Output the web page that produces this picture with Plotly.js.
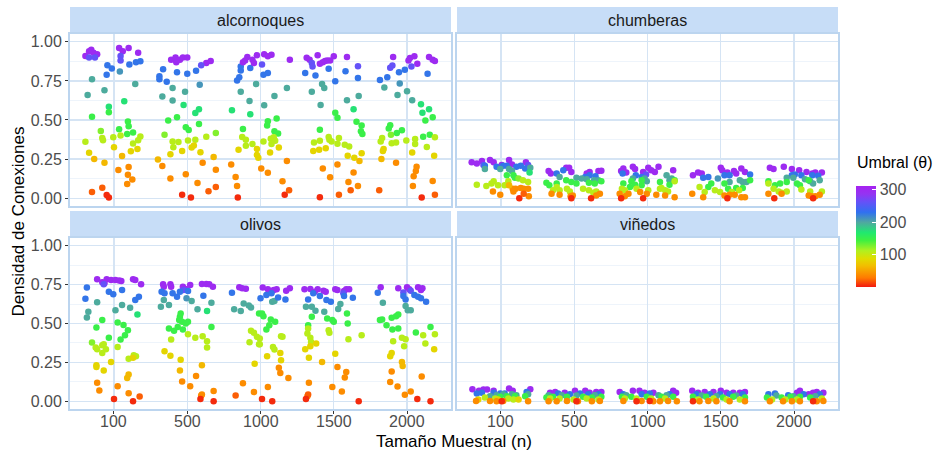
<!DOCTYPE html>
<html>
<head>
<meta charset="utf-8">
<script src="https://cdn.plot.ly/plotly-3.0.1.min.js"></script>
<style>
  html, body { margin: 0; padding: 0; background: #ffffff; }
  #grafico { width: 940px; height: 455px; }
</style>
</head>
<body>
<div id="grafico"></div>
<script>
// Tamaños muestrales (eje discreto) y etiquetas de cada faceta
const tamanos = [100, 500, 1000, 1500, 2000];
const facetas = ['alcornoques', 'chumberas', 'olivos', 'viñedos'];
const marcasY = [0, 0.25, 0.5, 0.75, 1];
const etiquetasY = ['0.00', '0.25', '0.50', '0.75', '1.00'];
const marcasUmbral = [100, 200, 300];

// Filas: [n, desplazamiento del jitter, densidad de conexiones, umbral θ]
const alcornoques = [
  [100,-0.39,0.91,300],[100,-0.34,0.94,300],[100,-0.31,0.95,300],[100,-0.28,0.93,300],[100,-0.23,0.92,300],[100,-0.34,0.90,262],[100,-0.26,0.90,262],[100,0.07,0.96,300],[100,0.12,0.94,300],[100,0.20,0.96,300],[100,0.33,0.93,300],[100,0.09,0.91,262],[100,0.09,0.88,262],[100,-0.09,0.85,228],[100,-0.03,0.83,228],[100,-0.10,0.79,228],[100,0.21,0.855,228],[100,0.30,0.87,228],[100,0.36,0.875,228],[100,0.08,0.81,210],[100,-0.30,0.76,198],[100,-0.13,0.69,198],[100,-0.36,0.66,198],[100,0.29,0.73,198],[100,0.14,0.62,172],[100,-0.07,0.585,172],[100,-0.07,0.55,148],[100,-0.30,0.52,148],[100,0.19,0.49,148],[100,0.20,0.46,148],[100,-0.18,0.43,125],[100,-0.16,0.385,108],[100,-0.15,0.37,108],[100,-0.39,0.36,108],[100,-0.01,0.39,108],[100,0.07,0.44,148],[100,0.09,0.40,108],[100,0.18,0.41,148],[100,0.26,0.42,148],[100,0.36,0.395,108],[100,0.33,0.37,108],[100,0.32,0.315,82],[100,0.23,0.30,82],[100,0.26,0.35,108],[100,0.00,0.325,82],[100,-0.34,0.29,82],[100,-0.27,0.25,62],[100,-0.13,0.227,62],[100,0.11,0.27,62],[100,0.06,0.18,38],[100,0.20,0.20,38],[100,0.19,0.15,38],[100,0.25,0.12,38],[100,0.18,0.09,38],[100,-0.16,0.067,20],[100,-0.30,0.04,20],[100,-0.10,0.02,5],[100,-0.07,0.004,5],
  [500,-0.22,0.885,300],[500,-0.16,0.90,300],[500,-0.10,0.885,300],[500,-0.06,0.90,300],[500,0.00,0.90,300],[500,-0.15,0.87,300],[500,0.26,0.865,300],[500,0.32,0.877,300],[500,0.19,0.85,262],[500,-0.33,0.825,228],[500,-0.38,0.78,228],[500,-0.38,0.76,228],[500,-0.14,0.805,228],[500,0.00,0.795,228],[500,0.12,0.815,228],[500,-0.28,0.745,228],[500,0.17,0.725,210],[500,-0.20,0.705,198],[500,-0.03,0.68,198],[500,-0.34,0.65,198],[500,-0.20,0.625,198],[500,-0.05,0.596,172],[500,0.11,0.544,172],[500,0.16,0.568,172],[500,-0.14,0.518,148],[500,-0.26,0.497,148],[500,0.16,0.475,148],[500,-0.02,0.454,148],[500,0.02,0.436,148],[500,-0.31,0.406,125],[500,-0.20,0.363,108],[500,-0.12,0.359,108],[500,0.01,0.369,108],[500,0.11,0.374,108],[500,0.26,0.393,108],[500,0.39,0.417,125],[500,-0.19,0.326,108],[500,-0.07,0.302,82],[500,0.06,0.324,82],[500,0.09,0.337,82],[500,0.18,0.294,82],[500,-0.23,0.281,82],[500,-0.40,0.248,62],[500,-0.34,0.205,38],[500,0.36,0.263,62],[500,0.21,0.227,38],[500,-0.02,0.153,38],[500,-0.23,0.125,38],[500,0.39,0.181,38],[500,0.14,0.097,38],[500,0.39,0.071,20],[500,0.29,0.045,20],[500,-0.07,0.022,5],[500,0.05,0.004,5],
  [1000,-0.32,0.752,228],[1000,-0.29,0.773,228],[1000,-0.27,0.816,228],[1000,-0.27,0.842,228],[1000,-0.24,0.870,300],[1000,-0.18,0.903,300],[1000,-0.21,0.881,300],[1000,-0.14,0.832,228],[1000,-0.11,0.886,300],[1000,-0.09,0.864,300],[1000,-0.05,0.914,300],[1000,-0.27,0.680,198],[1000,-0.15,0.622,198],[1000,-0.14,0.536,172],[1000,-0.06,0.730,198],[1000,-0.39,0.562,172],[1000,-0.24,0.443,148],[1000,-0.25,0.391,108],[1000,-0.20,0.374,108],[1000,-0.11,0.346,108],[1000,-0.20,0.335,108],[1000,-0.05,0.315,82],[1000,-0.30,0.309,82],[1000,-0.05,0.276,82],[1000,-0.03,0.259,82],[1000,-0.40,0.216,38],[1000,-0.34,0.136,38],[1000,-0.32,0.078,38],[1000,-0.31,0.004,5],[1000,0.05,0.920,300],[1000,0.10,0.907,300],[1000,0.15,0.918,300],[1000,0.02,0.855,262],[1000,0.04,0.790,228],[1000,0.10,0.801,228],[1000,0.19,0.654,198],[1000,0.05,0.594,198],[1000,0.10,0.492,148],[1000,0.09,0.464,148],[1000,0.22,0.510,148],[1000,0.19,0.428,148],[1000,0.24,0.413,148],[1000,0.18,0.389,108],[1000,0.14,0.380,108],[1000,0.20,0.367,108],[1000,0.04,0.363,108],[1000,0.15,0.346,108],[1000,0.25,0.324,82],[1000,0.13,0.292,82],[1000,0.01,0.190,38],[1000,0.36,0.238,38],[1000,0.10,0.162,38],[1000,0.30,0.108,38],[1000,0.33,0.022,5],[1000,0.39,0.050,20],[1000,0.40,0.886,300],[1000,0.36,0.704,198],
  [1500,-0.37,0.898,300],[1500,-0.33,0.886,300],[1500,-0.22,0.914,300],[1500,-0.30,0.864,262],[1500,-0.29,0.842,262],[1500,-0.19,0.860,300],[1500,-0.15,0.870,300],[1500,-0.12,0.877,300],[1500,-0.09,0.881,300],[1500,-0.05,0.881,300],[1500,0.00,0.907,300],[1500,0.18,0.903,300],[1500,-0.07,0.827,228],[1500,-0.39,0.801,228],[1500,-0.25,0.784,228],[1500,0.02,0.747,228],[1500,0.16,0.812,228],[1500,0.33,0.844,262],[1500,0.33,0.769,228],[1500,-0.30,0.680,198],[1500,-0.16,0.730,198],[1500,-0.13,0.704,198],[1500,-0.18,0.596,198],[1500,0.18,0.626,198],[1500,0.27,0.568,172],[1500,0.34,0.654,198],[1500,0.02,0.546,148],[1500,0.05,0.514,148],[1500,0.31,0.488,148],[1500,0.38,0.464,148],[1500,0.37,0.428,148],[1500,0.39,0.410,148],[1500,-0.19,0.438,148],[1500,-0.27,0.356,108],[1500,-0.19,0.367,108],[1500,-0.07,0.391,108],[1500,-0.06,0.374,108],[1500,-0.03,0.363,108],[1500,0.07,0.384,108],[1500,0.05,0.348,108],[1500,0.15,0.341,108],[1500,0.21,0.330,108],[1500,-0.28,0.302,82],[1500,-0.20,0.309,82],[1500,-0.11,0.320,82],[1500,0.38,0.287,82],[1500,0.19,0.272,82],[1500,0.28,0.259,82],[1500,0.35,0.238,62],[1500,-0.15,0.190,38],[1500,-0.05,0.134,38],[1500,0.05,0.216,38],[1500,0.27,0.164,38],[1500,0.20,0.104,38],[1500,0.33,0.078,38],[1500,0.23,0.050,20],[1500,-0.19,0.006,5],[1500,0.07,0.022,20],
  [2000,-0.19,0.903,300],[2000,0.04,0.896,300],[2000,0.10,0.907,300],[2000,0.02,0.881,300],[2000,0.14,0.860,300],[2000,0.30,0.903,300],[2000,0.35,0.886,300],[2000,0.38,0.877,300],[2000,0.06,0.842,262],[2000,-0.20,0.849,262],[2000,-0.23,0.834,262],[2000,-0.37,0.756,228],[2000,-0.27,0.773,228],[2000,-0.11,0.806,228],[2000,-0.03,0.821,228],[2000,0.28,0.795,228],[2000,-0.10,0.734,210],[2000,-0.31,0.708,198],[2000,-0.13,0.659,198],[2000,0.00,0.683,198],[2000,0.07,0.626,198],[2000,0.19,0.600,172],[2000,0.30,0.568,172],[2000,0.21,0.546,172],[2000,0.35,0.518,148],[2000,0.25,0.497,148],[2000,-0.23,0.467,148],[2000,-0.25,0.445,148],[2000,-0.22,0.406,125],[2000,-0.07,0.434,148],[2000,-0.14,0.417,148],[2000,-0.01,0.369,108],[2000,0.11,0.378,108],[2000,0.22,0.393,148],[2000,0.31,0.406,148],[2000,0.38,0.389,108],[2000,-0.34,0.384,108],[2000,-0.36,0.363,108],[2000,-0.21,0.352,108],[2000,-0.15,0.356,108],[2000,-0.32,0.315,82],[2000,-0.33,0.302,82],[2000,0.11,0.346,108],[2000,0.27,0.328,108],[2000,0.07,0.292,82],[2000,0.37,0.272,82],[2000,-0.35,0.251,62],[2000,-0.15,0.227,38],[2000,0.13,0.201,38],[2000,0.12,0.173,38],[2000,0.09,0.140,38],[2000,0.35,0.110,38],[2000,0.08,0.078,38],[2000,-0.38,0.050,20],[2000,0.20,0.004,5],[2000,0.38,0.022,20]
];

const chumberas = [
  [100,-0.40,0.229,300],[100,-0.33,0.222,300],[100,-0.26,0.238,300],[100,-0.15,0.244,300],[100,-0.10,0.229,300],[100,-0.24,0.212,262],[100,0.01,0.212,300],[100,0.11,0.244,300],[100,0.15,0.216,300],[100,0.34,0.229,300],[100,0.37,0.212,262],[100,-0.22,0.207,228],[100,-0.06,0.201,228],[100,0.03,0.207,228],[100,0.08,0.207,228],[100,0.21,0.201,228],[100,0.27,0.207,228],[100,0.33,0.190,228],[100,-0.22,0.186,198],[100,-0.01,0.186,198],[100,0.11,0.186,198],[100,0.15,0.173,198],[100,0.40,0.194,198],[100,0.39,0.164,172],[100,0.17,0.147,148],[100,0.19,0.130,148],[100,0.08,0.147,148],[100,-0.33,0.086,108],[100,-0.20,0.078,108],[100,-0.13,0.093,108],[100,-0.10,0.108,108],[100,0.05,0.082,108],[100,0.10,0.108,108],[100,0.24,0.125,125],[100,0.30,0.114,108],[100,0.37,0.104,108],[100,-0.04,0.082,108],[100,-0.11,0.043,38],[100,-0.01,0.022,38],[100,0.16,0.060,38],[100,0.20,0.060,38],[100,0.27,0.065,38],[100,0.31,0.060,38],[100,0.17,0.043,38],[100,0.38,0.013,38],[100,0.37,0.060,38],[100,0.11,0.082,62],[100,0.25,0.000,5],[100,0.31,0.028,20],
  [500,-0.35,0.173,300],[500,-0.32,0.158,300],[500,-0.11,0.194,300],[500,-0.07,0.194,300],[500,-0.04,0.168,300],[500,0.17,0.158,300],[500,0.21,0.168,300],[500,0.33,0.173,300],[500,0.37,0.175,300],[500,-0.24,0.158,228],[500,-0.15,0.179,228],[500,0.21,0.147,228],[500,0.29,0.140,228],[500,0.15,0.136,228],[500,-0.20,0.136,198],[500,0.03,0.130,198],[500,0.10,0.125,198],[500,0.17,0.121,198],[500,0.27,0.114,198],[500,0.33,0.114,198],[500,-0.38,0.099,148],[500,-0.34,0.082,148],[500,-0.24,0.093,148],[500,-0.04,0.104,148],[500,0.03,0.093,148],[500,0.20,0.099,148],[500,0.28,0.093,148],[500,0.37,0.108,148],[500,-0.11,0.114,148],[500,-0.29,0.050,108],[500,-0.24,0.071,108],[500,-0.20,0.050,108],[500,-0.10,0.060,108],[500,-0.06,0.043,108],[500,0.12,0.060,108],[500,0.20,0.050,108],[500,0.26,0.035,108],[500,0.30,0.043,108],[500,-0.31,0.028,38],[500,-0.20,0.022,38],[500,-0.05,0.013,38],[500,-0.02,0.017,38],[500,0.30,0.017,38],[500,0.35,0.028,38],[500,0.23,0.000,5],[500,-0.04,0.000,5],
  [1000,-0.36,0.173,300],[1000,-0.33,0.190,300],[1000,-0.20,0.201,300],[1000,-0.17,0.186,300],[1000,-0.06,0.168,300],[1000,-0.02,0.151,262],[1000,-0.29,0.164,300],[1000,-0.34,0.158,228],[1000,-0.16,0.147,228],[1000,-0.08,0.136,228],[1000,-0.20,0.125,198],[1000,-0.04,0.125,198],[1000,-0.01,0.108,198],[1000,-0.33,0.093,148],[1000,-0.22,0.108,148],[1000,-0.24,0.071,148],[1000,-0.17,0.086,148],[1000,-0.08,0.082,148],[1000,-0.35,0.060,108],[1000,-0.31,0.050,108],[1000,-0.15,0.060,108],[1000,0.01,0.050,108],[1000,-0.38,0.028,38],[1000,-0.31,0.013,38],[1000,-0.26,0.028,38],[1000,-0.10,0.039,38],[1000,-0.01,0.028,38],[1000,-0.36,0.000,5],[1000,-0.06,0.000,5],[1000,0.01,0.194,300],[1000,0.05,0.179,300],[1000,0.15,0.201,300],[1000,0.10,0.168,300],[1000,0.35,0.179,300],[1000,0.26,0.147,198],[1000,0.33,0.125,198],[1000,0.30,0.114,198],[1000,0.37,0.114,148],[1000,0.17,0.104,148],[1000,0.30,0.086,148],[1000,0.17,0.060,108],[1000,0.19,0.065,108],[1000,0.24,0.050,108],[1000,0.28,0.043,108],[1000,0.37,0.108,108],[1000,0.12,0.022,38],[1000,0.24,0.017,38],[1000,0.37,0.006,38],[1000,-0.08,0.114,148],
  [1500,-0.38,0.147,300],[1500,-0.31,0.164,300],[1500,-0.26,0.158,300],[1500,0.00,0.194,300],[1500,0.02,0.179,300],[1500,0.09,0.164,300],[1500,0.18,0.173,300],[1500,0.21,0.158,300],[1500,0.28,0.190,300],[1500,0.33,0.168,300],[1500,-0.24,0.130,228],[1500,-0.17,0.136,228],[1500,0.05,0.147,228],[1500,0.12,0.147,228],[1500,-0.04,0.125,210],[1500,0.40,0.151,228],[1500,0.26,0.114,198],[1500,0.30,0.104,198],[1500,0.35,0.104,198],[1500,0.12,0.104,198],[1500,-0.13,0.093,148],[1500,-0.17,0.071,148],[1500,0.05,0.093,148],[1500,0.10,0.060,148],[1500,0.21,0.065,148],[1500,0.30,0.065,148],[1500,0.40,0.114,148],[1500,-0.29,0.071,108],[1500,-0.22,0.039,108],[1500,-0.08,0.050,108],[1500,-0.01,0.039,108],[1500,0.15,0.039,108],[1500,0.25,0.050,108],[1500,-0.39,0.028,38],[1500,-0.24,0.006,38],[1500,0.05,0.017,38],[1500,0.12,0.022,38],[1500,0.19,0.022,38],[1500,0.28,0.006,38],[1500,0.33,0.006,38],[1500,0.09,0.000,5],
  [2000,-0.33,0.194,300],[2000,-0.28,0.186,300],[2000,-0.14,0.201,300],[2000,-0.03,0.186,300],[2000,0.07,0.179,300],[2000,0.17,0.168,300],[2000,0.25,0.158,300],[2000,0.29,0.164,300],[2000,0.38,0.164,300],[2000,-0.03,0.147,228],[2000,0.01,0.151,228],[2000,0.25,0.147,228],[2000,0.33,0.143,228],[2000,0.10,0.147,228],[2000,-0.10,0.130,198],[2000,-0.01,0.130,198],[2000,0.15,0.121,198],[2000,0.22,0.108,198],[2000,0.26,0.093,198],[2000,0.35,0.114,198],[2000,-0.35,0.108,148],[2000,-0.26,0.082,148],[2000,-0.19,0.093,148],[2000,-0.10,0.104,148],[2000,0.04,0.093,148],[2000,0.08,0.082,148],[2000,0.20,0.114,148],[2000,-0.35,0.093,108],[2000,-0.28,0.060,108],[2000,-0.21,0.043,108],[2000,-0.17,0.035,108],[2000,-0.10,0.043,108],[2000,0.10,0.056,108],[2000,0.22,0.043,108],[2000,0.38,0.043,108],[2000,-0.35,0.028,38],[2000,-0.17,0.028,38],[2000,0.20,0.017,38],[2000,0.24,0.013,38],[2000,0.29,0.013,38],[2000,0.35,0.022,38],[2000,-0.27,0.000,5],[2000,0.26,0.000,5]
];

const olivos = [
  [100,-0.23,0.784,300],[100,-0.16,0.765,300],[100,-0.13,0.759,300],[100,-0.10,0.784,300],[100,-0.04,0.780,300],[100,0.02,0.780,300],[100,0.07,0.776,300],[100,0.10,0.774,300],[100,0.26,0.784,300],[100,0.29,0.780,300],[100,0.37,0.752,300],[100,-0.14,0.752,262],[100,-0.37,0.731,228],[100,-0.39,0.659,228],[100,-0.07,0.705,228],[100,-0.01,0.688,228],[100,0.11,0.716,228],[100,0.29,0.651,228],[100,0.34,0.672,228],[100,-0.23,0.636,198],[100,-0.35,0.575,198],[100,-0.37,0.539,198],[100,0.02,0.586,198],[100,0.11,0.619,198],[100,0.22,0.601,198],[100,0.32,0.558,172],[100,-0.16,0.522,148],[100,-0.24,0.474,148],[100,0.05,0.506,148],[100,0.13,0.491,148],[100,0.19,0.457,148],[100,0.15,0.425,148],[100,0.09,0.397,148],[100,-0.07,0.409,148],[100,-0.30,0.377,125],[100,-0.25,0.345,108],[100,-0.23,0.334,108],[100,-0.16,0.360,108],[100,-0.14,0.366,108],[100,-0.11,0.334,108],[100,-0.16,0.310,108],[100,0.05,0.349,108],[100,-0.24,0.231,82],[100,-0.24,0.220,82],[100,-0.14,0.198,82],[100,-0.04,0.252,82],[100,0.20,0.274,108],[100,0.27,0.295,108],[100,0.30,0.289,108],[100,0.26,0.280,82],[100,0.18,0.149,62],[100,0.20,0.172,62],[100,-0.23,0.119,38],[100,-0.20,0.069,38],[100,0.05,0.097,38],[100,0.20,0.052,38],[100,0.35,0.030,20],[100,0.00,0.015,5],[100,0.26,0.000,5],
  [500,-0.33,0.752,300],[500,-0.32,0.737,300],[500,-0.23,0.752,300],[500,-0.22,0.737,300],[500,-0.06,0.737,300],[500,-0.02,0.722,300],[500,0.04,0.748,300],[500,0.20,0.754,300],[500,0.26,0.754,300],[500,0.30,0.752,300],[500,0.35,0.737,300],[500,-0.05,0.716,262],[500,-0.35,0.705,228],[500,-0.31,0.694,228],[500,-0.20,0.694,228],[500,-0.14,0.672,228],[500,-0.10,0.705,228],[500,0.01,0.709,228],[500,-0.01,0.662,210],[500,0.22,0.679,228],[500,-0.36,0.608,198],[500,-0.32,0.651,198],[500,-0.25,0.619,198],[500,0.06,0.644,198],[500,0.14,0.591,198],[500,0.33,0.634,198],[500,0.27,0.580,172],[500,-0.09,0.565,148],[500,-0.10,0.543,148],[500,-0.07,0.511,148],[500,-0.11,0.522,148],[500,-0.13,0.478,148],[500,-0.02,0.500,148],[500,0.01,0.511,148],[500,-0.25,0.468,148],[500,-0.18,0.453,148],[500,-0.06,0.461,148],[500,0.33,0.478,148],[500,-0.22,0.397,108],[500,0.01,0.431,108],[500,0.11,0.409,108],[500,0.21,0.418,108],[500,0.27,0.386,108],[500,0.27,0.345,108],[500,-0.31,0.321,82],[500,-0.23,0.293,82],[500,-0.09,0.267,82],[500,-0.10,0.198,62],[500,0.20,0.231,62],[500,-0.07,0.127,38],[500,0.04,0.097,38],[500,0.12,0.162,38],[500,0.19,0.037,38],[500,0.20,0.043,38],[500,0.36,0.065,38],[500,0.18,0.015,5],[500,0.36,0.000,5],
  [1000,-0.29,0.733,300],[1000,-0.25,0.726,300],[1000,-0.20,0.724,300],[1000,-0.39,0.698,228],[1000,-0.36,0.591,198],[1000,-0.27,0.580,198],[1000,-0.23,0.629,198],[1000,-0.16,0.616,198],[1000,-0.13,0.603,198],[1000,-0.02,0.565,148],[1000,-0.13,0.453,108],[1000,-0.09,0.440,108],[1000,-0.05,0.414,108],[1000,-0.15,0.379,108],[1000,-0.02,0.366,108],[1000,-0.08,0.241,82],[1000,-0.24,0.116,38],[1000,-0.09,0.060,38],[1000,-0.34,0.037,20],[1000,0.03,0.731,300],[1000,0.10,0.720,300],[1000,0.12,0.705,300],[1000,0.18,0.716,300],[1000,0.22,0.720,300],[1000,0.35,0.711,300],[1000,0.40,0.726,300],[1000,0.00,0.662,228],[1000,0.08,0.683,228],[1000,0.15,0.694,228],[1000,0.16,0.640,198],[1000,0.19,0.644,198],[1000,0.24,0.668,228],[1000,0.34,0.655,228],[1000,0.02,0.565,148],[1000,0.04,0.547,148],[1000,0.14,0.526,148],[1000,0.12,0.489,148],[1000,0.20,0.511,148],[1000,0.08,0.461,148],[1000,0.28,0.418,108],[1000,0.30,0.414,108],[1000,-0.01,0.403,108],[1000,-0.01,0.366,108],[1000,0.17,0.349,108],[1000,0.19,0.332,108],[1000,0.09,0.289,82],[1000,0.27,0.310,82],[1000,0.28,0.263,82],[1000,0.25,0.216,38],[1000,0.27,0.181,38],[1000,0.38,0.149,38],[1000,0.10,0.091,38],[1000,0.02,0.015,5],[1000,0.16,0.000,5],
  [1500,-0.40,0.720,300],[1500,-0.32,0.722,300],[1500,-0.26,0.705,300],[1500,-0.22,0.720,300],[1500,-0.14,0.711,300],[1500,-0.11,0.705,300],[1500,0.02,0.720,300],[1500,0.05,0.716,300],[1500,0.14,0.709,300],[1500,0.17,0.720,300],[1500,0.21,0.720,300],[1500,0.13,0.694,262],[1500,-0.19,0.677,228],[1500,-0.28,0.694,228],[1500,0.14,0.677,228],[1500,0.26,0.666,228],[1500,-0.35,0.655,228],[1500,-0.10,0.651,228],[1500,-0.04,0.640,228],[1500,-0.38,0.608,198],[1500,-0.30,0.608,198],[1500,-0.25,0.582,198],[1500,-0.13,0.575,198],[1500,0.06,0.593,198],[1500,0.09,0.625,198],[1500,-0.30,0.543,148],[1500,-0.09,0.532,148],[1500,-0.02,0.522,148],[1500,0.00,0.511,148],[1500,0.18,0.565,148],[1500,0.19,0.500,148],[1500,-0.35,0.489,148],[1500,-0.35,0.468,108],[1500,-0.07,0.457,108],[1500,-0.06,0.440,108],[1500,-0.36,0.435,108],[1500,0.20,0.399,108],[1500,0.38,0.425,108],[1500,-0.32,0.409,108],[1500,-0.31,0.381,108],[1500,-0.32,0.353,82],[1500,-0.39,0.334,82],[1500,-0.24,0.371,82],[1500,-0.34,0.280,82],[1500,0.02,0.306,82],[1500,-0.16,0.252,62],[1500,0.05,0.220,38],[1500,0.17,0.188,38],[1500,0.15,0.153,38],[1500,-0.34,0.119,38],[1500,-0.02,0.091,38],[1500,0.11,0.063,38],[1500,-0.36,0.032,38],[1500,-0.35,0.043,20],[1500,0.34,0.000,5],[1500,-0.38,0.015,5],
  [2000,-0.36,0.733,300],[2000,-0.12,0.726,300],[2000,0.00,0.733,300],[2000,0.03,0.720,300],[2000,0.15,0.733,300],[2000,0.19,0.716,300],[2000,0.21,0.726,300],[2000,-0.05,0.700,262],[2000,0.05,0.711,262],[2000,-0.40,0.698,228],[2000,-0.05,0.677,228],[2000,-0.02,0.655,228],[2000,0.10,0.683,228],[2000,0.15,0.672,228],[2000,0.19,0.662,228],[2000,0.26,0.640,228],[2000,-0.33,0.634,198],[2000,-0.02,0.612,198],[2000,0.01,0.586,198],[2000,0.05,0.586,198],[2000,-0.37,0.522,148],[2000,-0.34,0.526,148],[2000,-0.21,0.537,148],[2000,-0.15,0.547,148],[2000,-0.12,0.558,148],[2000,-0.28,0.489,148],[2000,-0.20,0.461,148],[2000,-0.12,0.468,148],[2000,0.12,0.442,148],[2000,0.32,0.478,148],[2000,-0.19,0.386,108],[2000,-0.07,0.409,108],[2000,-0.02,0.399,108],[2000,-0.04,0.353,108],[2000,0.25,0.371,108],[2000,0.37,0.334,82],[2000,0.38,0.431,108],[2000,0.22,0.425,108],[2000,-0.23,0.289,82],[2000,-0.21,0.310,82],[2000,-0.07,0.252,62],[2000,-0.06,0.226,62],[2000,-0.21,0.192,38],[2000,0.20,0.159,38],[2000,-0.23,0.123,38],[2000,-0.13,0.095,38],[2000,-0.03,0.041,38],[2000,0.05,0.063,38],[2000,0.14,0.015,5],[2000,0.32,0.000,5]
];

const vinedos = [
  [100,-0.39,0.077,300],[100,-0.30,0.067,300],[100,-0.24,0.075,300],[100,-0.19,0.075,300],[100,-0.10,0.067,300],[100,0.11,0.082,300],[100,0.16,0.067,300],[100,0.40,0.077,300],[100,-0.33,0.049,228],[100,-0.26,0.054,228],[100,-0.10,0.054,228],[100,-0.01,0.049,228],[100,0.05,0.049,228],[100,0.35,0.060,228],[100,-0.06,0.039,198],[100,0.03,0.045,198],[100,0.15,0.045,198],[100,0.21,0.039,198],[100,-0.15,0.032,198],[100,0.37,0.045,198],[100,-0.01,0.028,148],[100,0.08,0.032,148],[100,0.19,0.032,148],[100,0.33,0.032,148],[100,-0.22,0.024,108],[100,-0.08,0.017,108],[100,0.10,0.017,108],[100,0.17,0.011,108],[100,-0.31,0.011,82],[100,-0.04,0.011,82],[100,0.24,0.011,82],[100,-0.34,0.002,38],[100,-0.15,0.002,38],[100,-0.06,0.000,38],[100,0.03,0.002,38],[100,0.37,0.000,38],[100,0.01,0.000,5],
  [500,-0.33,0.054,300],[500,-0.26,0.060,300],[500,-0.13,0.054,300],[500,0.01,0.067,300],[500,0.15,0.067,300],[500,0.21,0.054,300],[500,0.30,0.060,300],[500,0.37,0.060,300],[500,-0.22,0.049,228],[500,-0.06,0.045,228],[500,0.08,0.049,228],[500,0.19,0.045,228],[500,0.33,0.045,228],[500,-0.35,0.039,198],[500,-0.17,0.039,198],[500,0.03,0.037,198],[500,0.28,0.039,198],[500,-0.38,0.024,148],[500,-0.29,0.028,148],[500,-0.10,0.028,148],[500,0.12,0.028,148],[500,0.24,0.024,148],[500,0.37,0.028,148],[500,-0.33,0.017,108],[500,-0.20,0.017,108],[500,-0.01,0.011,108],[500,0.17,0.017,108],[500,0.33,0.011,108],[500,-0.35,0.000,38],[500,-0.24,0.000,38],[500,-0.10,0.002,38],[500,0.05,0.000,38],[500,0.24,0.000,38],[500,0.35,0.002,38],[500,0.03,0.000,5],
  [1000,-0.38,0.060,300],[1000,-0.20,0.067,300],[1000,-0.11,0.067,300],[1000,-0.04,0.054,300],[1000,0.08,0.054,300],[1000,0.35,0.067,300],[1000,0.39,0.054,300],[1000,-0.33,0.045,228],[1000,-0.08,0.045,228],[1000,0.03,0.049,228],[1000,0.30,0.045,228],[1000,-0.29,0.039,198],[1000,0.15,0.039,198],[1000,0.26,0.039,198],[1000,-0.35,0.028,148],[1000,-0.22,0.028,148],[1000,-0.01,0.028,148],[1000,0.19,0.028,148],[1000,0.35,0.028,148],[1000,-0.31,0.017,108],[1000,-0.15,0.017,108],[1000,0.05,0.017,108],[1000,0.24,0.017,108],[1000,-0.33,0.002,38],[1000,-0.08,0.002,38],[1000,0.08,0.000,38],[1000,0.17,0.000,38],[1000,0.28,0.002,38],[1000,0.40,0.000,38],[1000,-0.15,0.000,5],[1000,0.03,0.002,5],
  [1500,-0.39,0.067,300],[1500,-0.31,0.054,300],[1500,-0.22,0.060,300],[1500,-0.10,0.060,300],[1500,0.00,0.067,300],[1500,0.08,0.054,300],[1500,0.17,0.054,300],[1500,0.26,0.054,300],[1500,0.33,0.060,300],[1500,-0.33,0.045,228],[1500,-0.15,0.045,228],[1500,-0.01,0.045,228],[1500,0.12,0.045,228],[1500,0.30,0.045,228],[1500,-0.26,0.037,198],[1500,-0.06,0.032,198],[1500,0.21,0.037,198],[1500,-0.38,0.028,148],[1500,-0.20,0.028,148],[1500,0.03,0.024,148],[1500,0.17,0.028,148],[1500,0.33,0.024,148],[1500,-0.31,0.011,108],[1500,-0.10,0.017,108],[1500,0.08,0.011,108],[1500,0.26,0.011,108],[1500,-0.29,0.000,38],[1500,-0.17,0.002,38],[1500,-0.06,0.000,38],[1500,0.12,0.000,38],[1500,0.33,0.000,38],[1500,-0.38,0.000,5],
  [2000,0.04,0.054,300],[2000,0.08,0.067,300],[2000,0.20,0.045,300],[2000,0.26,0.054,300],[2000,0.31,0.060,300],[2000,0.40,0.054,300],[2000,-0.35,0.045,228],[2000,-0.26,0.049,228],[2000,-0.08,0.039,228],[2000,0.13,0.045,228],[2000,0.35,0.045,228],[2000,-0.24,0.037,198],[2000,-0.01,0.032,198],[2000,0.29,0.032,198],[2000,-0.37,0.024,148],[2000,-0.17,0.024,148],[2000,-0.05,0.028,148],[2000,0.08,0.028,148],[2000,0.22,0.024,148],[2000,-0.30,0.011,108],[2000,-0.12,0.011,108],[2000,0.04,0.011,108],[2000,0.38,0.017,108],[2000,-0.33,0.000,38],[2000,-0.15,0.000,38],[2000,-0.03,0.000,38],[2000,0.08,0.000,38],[2000,0.31,0.000,38],[2000,0.40,0.002,38],[2000,0.26,0.000,5]
];

// Paleta arcoíris del umbral (rojo → púrpura)
const escalaUmbral = [
  [0.00, '#F21A10'], [0.09, '#FF7A00'], [0.21, '#F2BE00'], [0.28, '#E0DC00'],
  [0.36, '#B0F020'], [0.46, '#40F040'], [0.54, '#20E870'], [0.64, '#50A8A0'],
  [0.74, '#3070F0'], [0.84, '#6452F8'], [0.92, '#9434F2'], [1.00, '#A622F0']
];
const UMBRAL_MIN = 0, UMBRAL_MAX = 312;

const FUENTE = 'Liberation Sans, Arial, sans-serif';
const GRIS_TEXTO = '#4D4D4D';
const AZUL_BORDE = '#BCD5EF';
const AZUL_REJILLA = '#D5E4F4';
const AZUL_MENOR = '#E7F0FA';
const AZUL_TIRA = '#C7DDF7';

// Dominios de los paneles (columna izquierda/derecha, fila superior/inferior)
const domX = [[0.0745, 0.4798], [0.4862, 0.8915]];
const domY = [[0.5473, 0.9253], [0.1011, 0.4769]];
const tiraY = [[0.9253, 0.9846], [0.4769, 0.5363]];

const datosFaceta = [alcornoques, chumberas, olivos, vinedos];
const posicion = n => tamanos.indexOf(n) + 1;

const trazas = datosFaceta.map((filas, i) => {
  const sufijo = i === 0 ? '' : String(i + 1);
  return {
    type: 'scatter',
    mode: 'markers',
    x: filas.map(f => posicion(f[0]) + f[1]),
    y: filas.map(f => f[2]),
    xaxis: 'x' + sufijo,
    yaxis: 'y' + sufijo,
    hoverinfo: 'skip',
    showlegend: false,
    marker: {
      size: 6.5,
      color: filas.map(f => f[3]),
      colorscale: escalaUmbral,
      cmin: UMBRAL_MIN,
      cmax: UMBRAL_MAX,
      line: { width: 0 },
      showscale: i === 0,
      colorbar: {
        x: 856 / 940, xanchor: 'left', xpad: 0,
        y: (455 - 236.5) / 455, yanchor: 'middle', ypad: 0,
        len: 101, lenmode: 'pixels',
        thickness: 20, thicknessmode: 'pixels',
        outlinewidth: 0,
        tickvals: marcasUmbral,
        ticks: 'inside', ticklen: 4, tickcolor: '#ffffff', tickwidth: 1,
        tickfont: { family: FUENTE, size: 16, color: GRIS_TEXTO }
      }
    }
  };
});

const layout = {
  width: 940, height: 455,
  margin: { l: 0, r: 0, t: 0, b: 0 },
  paper_bgcolor: '#ffffff',
  plot_bgcolor: '#ffffff',
  font: { family: FUENTE, color: GRIS_TEXTO },
  showlegend: false,
  shapes: [],
  annotations: []
};

facetas.forEach((nombre, i) => {
  const col = i % 2, fila = Math.floor(i / 2);
  const sufijo = i === 0 ? '' : String(i + 1);
  const abajo = fila === 1, izquierda = col === 0;
  layout['xaxis' + sufijo] = {
    domain: domX[col],
    anchor: 'y' + sufijo,
    range: [0.4, 5.6],
    tickvals: tamanos.map((n, k) => k + 1),
    showticklabels: false,
    ticks: abajo ? 'outside' : '',
    ticklen: 3, tickwidth: 1, tickcolor: '#333333',
    showgrid: true, gridcolor: AZUL_REJILLA, gridwidth: 1.3,
    zeroline: false,
    showline: true, mirror: true, linecolor: AZUL_BORDE, linewidth: 2
  };
  layout['yaxis' + sufijo] = {
    domain: domY[fila],
    anchor: 'x' + sufijo,
    range: [-0.05, 1.05],
    tickvals: marcasY,
    ticktext: etiquetasY,
    showticklabels: izquierda,
    ticks: izquierda ? 'outside' : '',
    ticklen: 3, tickwidth: 1, tickcolor: '#333333',
    tickfont: { family: FUENTE, size: 16, color: GRIS_TEXTO },
    showgrid: true, gridcolor: AZUL_REJILLA, gridwidth: 1.3,
    minor: { tickvals: [0.125, 0.375, 0.625, 0.875], showgrid: true, gridcolor: AZUL_MENOR, gridwidth: 0.7, ticks: '' },
    zeroline: false,
    showline: true, mirror: true, linecolor: AZUL_BORDE, linewidth: 2
  };
  // Etiquetas del eje x bajo los paneles inferiores, en la posición de cada categoría
  if (abajo) {
    tamanos.forEach((n, k) => {
      layout.annotations.push({
        xref: 'x' + sufijo, yref: 'paper',
        x: k + 1, y: (455 - 421) / 455,
        text: String(n), showarrow: false,
        xanchor: 'center', yanchor: 'middle',
        font: { family: FUENTE, size: 16, color: GRIS_TEXTO }
      });
    });
  }
  // Tira con el nombre de la faceta
  layout.shapes.push({
    type: 'rect', xref: 'paper', yref: 'paper',
    x0: domX[col][0], x1: domX[col][1], y0: tiraY[fila][0], y1: tiraY[fila][1],
    fillcolor: AZUL_TIRA, line: { width: 0 }, layer: 'below'
  });
  layout.annotations.push({
    xref: 'paper', yref: 'paper',
    x: (domX[col][0] + domX[col][1]) / 2,
    y: (tiraY[fila][0] + tiraY[fila][1]) / 2,
    text: nombre, showarrow: false,
    xanchor: 'center', yanchor: 'middle',
    font: { family: FUENTE, size: 16, color: '#1A1A1A' }
  });
});

layout.annotations.push(
  {
    xref: 'paper', yref: 'paper', x: 454 / 940, y: (455 - 441) / 455,
    text: 'Tamaño Muestral (n)', showarrow: false,
    xanchor: 'center', yanchor: 'middle',
    font: { family: FUENTE, size: 17, color: '#000000' }
  },
  {
    xref: 'paper', yref: 'paper', x: 18 / 940, y: (455 - 221.5) / 455,
    text: 'Densidad de Conexiones', showarrow: false, textangle: -90,
    xanchor: 'center', yanchor: 'middle',
    font: { family: FUENTE, size: 17, color: '#000000' }
  },
  {
    xref: 'paper', yref: 'paper', x: 855 / 940, y: (455 - 163) / 455,
    text: 'Umbral (θ)', showarrow: false,
    xanchor: 'left', yanchor: 'middle',
    font: { family: FUENTE, size: 16, color: '#000000' }
  }
);

Plotly.newPlot('grafico', trazas, layout, { staticPlot: true, displayModeBar: false });
</script>
</body>
</html>
